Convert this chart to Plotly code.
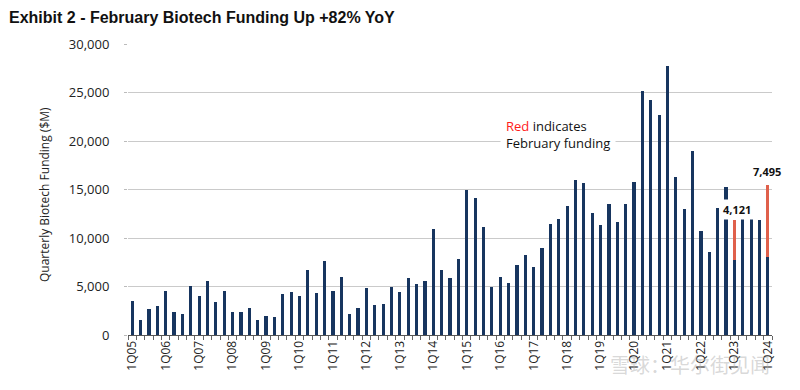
import plotly.graph_objects as go

years = [f"{y:02d}" for y in range(5, 25)]
quarters = [f"{q}Q{y}" for y in years for q in range(1, 5)][:77]

base_funding = [
    3500, 1530, 2720, 3030,    # 2005
    4520, 2350, 2140, 5100,    # 2006
    4050, 5580, 3370, 4520,    # 2007
    2350, 2350, 2790, 1530,    # 2008
    2010, 1900, 4250, 4430,    # 2009
    3970, 6690, 4310, 7650,    # 2010
    4520, 6000, 2210, 2760,    # 2011
    4860, 3100, 3170, 4930,    # 2012
    4450, 5900, 5240, 5550,    # 2013
    10930, 6700, 5880, 7860,   # 2014
    14930, 14170, 11170, 5000, # 2015
    5930, 5380, 7170, 8240,    # 2016
    7030, 8930, 11450, 11960,  # 2017
    13310, 16030, 15650, 12620,# 2018
    11300, 13470, 11680, 13530,# 2019
    15740, 25140, 24210, 22660,# 2020
    27720, 16260, 12950, 18980,# 2021
    10710, 8510, 13120, 15220, # 2022
    7700, 11950, 11950, 11880, # 2023
    8000,                      # 2024
]
feb_funding = [0] * 76 + [7495]
feb_funding[72] = 4121

tick_labels = ["1Q" + y for y in years]

NAVY = "#17355F"
RED = "#E0604B"

# page body has an 8px default margin; figure is sized to fill the window
W, H = 792, 382

fig = go.Figure()
fig.add_trace(go.Bar(x=quarters, y=base_funding, marker_color=NAVY,
                     marker_line_width=0, showlegend=False))
fig.add_trace(go.Bar(x=quarters, y=feb_funding, marker_color=RED,
                     marker_line_width=0, showlegend=False))

totals = [b + f for b, f in zip(base_funding, feb_funding)]

fig.add_annotation(x="1Q23", y=totals[72], text=f"<b>{feb_funding[72]:,}</b>",
                   showarrow=False, yanchor="bottom", xshift=3,
                   bgcolor="white", borderpad=2,
                   font=dict(family="Open Sans", size=11, color="#111"))
fig.add_annotation(x="1Q24", y=totals[76], text=f"<b>{feb_funding[76]:,}</b>",
                   showarrow=False, yanchor="bottom", yshift=4, xshift=-1,
                   font=dict(family="Open Sans", size=11, color="#111"))

def px_x(p):
    return (p - 128) / 644

def px_y(p):
    return (335 - p) / 291

fig.add_annotation(xref="paper", yref="paper", x=px_x(500), y=px_y(134),
                   xanchor="left", yanchor="middle", align="left",
                   text="<span style='color:#FF1A1A'>Red</span> indicates<br>February funding",
                   showarrow=False, bgcolor="white", borderpad=5,
                   font=dict(family="Open Sans", size=13, color="#111"))

fig.add_annotation(xref="paper", yref="paper", x=px_x(45), y=px_y(195),
                   xanchor="center", yanchor="middle", textangle=-90,
                   text="Quarterly Biotech Funding ($M)", showarrow=False,
                   font=dict(family="Open Sans", size=12, color="#222"))

fig.add_annotation(xref="paper", yref="paper", x=px_x(690), y=px_y(364),
                   xanchor="center", yanchor="middle",
                   text="雪球：华尔街见闻", showarrow=False,
                   font=dict(family="Noto Sans CJK SC", size=20,
                             color="rgba(170,170,170,0.45)"))

fig.update_layout(
    width=W, height=H,
    barmode="stack", bargap=0.62,
    margin=dict(l=120, r=28, t=36, b=55),
    plot_bgcolor="white", paper_bgcolor="white",
    title=dict(text="<b>Exhibit 2 - February Biotech Funding Up +82% YoY</b>",
               x=1 / W, xanchor="left", xref="container", y=1 - 9 / H,
               yanchor="middle", yref="container",
               font=dict(family="Liberation Sans", size=16, color="#111")),
    font=dict(family="Open Sans", color="#222"),
)

fig.update_xaxes(
    type="category", range=[-0.5, 76.5],
    tickmode="array", tickvals=quarters,
    ticktext=[q if q in tick_labels else "" for q in quarters],
    tickson="boundaries", ticks="outside", ticklen=4, tickcolor="#666",
    tickangle=-90, tickfont=dict(size=12, color="#222"),
    showline=True, linecolor="#555", linewidth=1, showgrid=False,
)
fig.update_yaxes(
    range=[0, 30000], dtick=5000, tickformat=",",
    showgrid=True, gridcolor="#CACACA", gridwidth=1,
    ticks="outside", ticklen=3, tickcolor="#BBBBBB",
    tickfont=dict(size=13, color="#222"), zeroline=False,
    ticklabelstandoff=12,
)

fig.write_html("out.html")
